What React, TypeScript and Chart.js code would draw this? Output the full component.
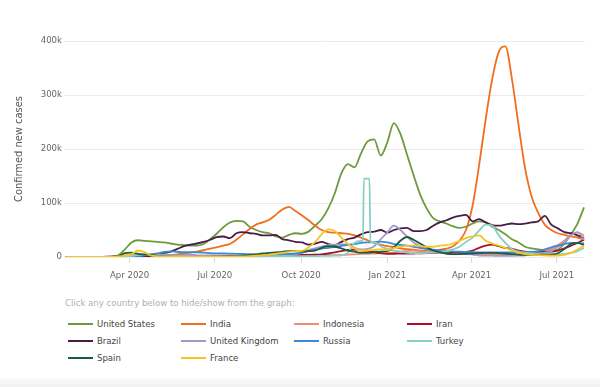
import React, { useEffect, useRef, useState } from "react";
import { Chart, registerables } from "chart.js";

Chart.register(...registerables);

const FONT = "'DejaVu Sans Condensed', 'DejaVu Sans', sans-serif";

// x values: days after 22 Jan 2020, one sample per week
const startDay = 2;
const weekDays = Array.from({ length: 80 }, (_, i) => startDay + 7 * i);
const xMaxDay = 556;
const xTickDays = [70, 161, 253, 345, 435, 526];
const xTickLabels = ["Apr 2020", "Jul 2020", "Oct 2020", "Jan 2021", "Apr 2021", "Jul 2021"];
const yTickValues = [0, 100, 200, 300, 400];
const yTickLabels = ["0", "100k", "200k", "300k", "400k"];

const countries = [
  "United States", "India", "Indonesia", "Iran",
  "Brazil", "United Kingdom", "Russia", "Turkey",
  "Spain", "France",
];
const colors = [
  "#6c9a3c", "#f06e1c", "#f1897a", "#a8102d",
  "#4b1b45", "#a698c8", "#3a8bd6", "#88cfc6",
  "#1d5b3e", "#f6c423",
];

// confirmed new cases (7-day average), thousands
const usCases = [
  0, 0, 0, 0, 0, 0, 0, 0.3, 3, 14,
  27, 31, 30, 29, 28, 27, 25, 23, 22, 21,
  21, 24, 33, 43, 55, 64, 67, 66, 56, 50,
  46, 44, 38, 36, 41, 44, 43, 47, 58, 70,
  90, 118, 155, 172, 166, 192, 214, 218, 188, 212,
  248, 228, 190, 152, 116, 90, 72, 66, 62, 57,
  54, 56, 62, 66, 64, 56, 50, 42, 33, 27,
  19, 16, 14, 13, 12, 14, 25, 42, 62, 92,
];
const indiaCases = [
  0, 0, 0, 0, 0, 0, 0, 0, 0.02, 0.08,
  0.3, 0.6, 1, 1.4, 1.7, 3, 3.6, 5, 6.5, 8.3,
  10, 12.5, 15.5, 18, 21, 24, 32, 42, 52, 60,
  64, 69, 78, 88, 93, 85, 77, 68, 58, 50,
  46, 45, 44, 43, 40, 36, 31, 26, 23, 20,
  18.5, 16, 14.5, 13.5, 12, 11.5, 11.5, 13.5, 15.5, 20,
  30, 50, 95, 170, 255, 330, 380, 390, 330, 245,
  165, 112, 82, 60, 50, 44, 41, 38, 36, 32,
];
const indonesiaCases = [
  0, 0, 0, 0, 0, 0, 0, 0, 0, 0.05,
  0.1, 0.25, 0.3, 0.3, 0.35, 0.35, 0.5, 0.5, 0.6, 0.65,
  0.9, 1, 1.2, 1.3, 1.5, 1.6, 1.7, 1.8, 1.8, 2,
  2.1, 2.3, 2.9, 3.3, 3.7, 4.1, 4.2, 4.3, 4.2, 4,
  3.7, 3.5, 3.8, 4.5, 5, 5.6, 6, 6.5, 6.8, 7.2,
  8, 10, 11, 12, 11, 9, 8.5, 8, 6.5, 5.5,
  5.5, 5.5, 5.5, 5.2, 5, 5.5, 5, 4.5, 4, 4.5,
  5.5, 6, 7.5, 10, 15, 22, 30, 42, 45, 40,
];
const iranCases = [
  0, 0, 0, 0, 0, 0.1, 0.5, 0.9, 1.1, 2.5,
  2.8, 2.2, 1.6, 1.2, 1.1, 1.4, 1.8, 2.2, 2.6, 3,
  2.6, 2.5, 2.6, 2.6, 2.3, 2.4, 2.5, 2.5, 2.4, 2.3,
  2.2, 2.1, 2.1, 2.3, 2.9, 3.4, 3.7, 4, 4.2, 5,
  6.5, 8.5, 11, 13, 13.5, 13, 11, 9, 7, 6,
  6, 6.2, 6.2, 6.5, 6.8, 7, 7.5, 8.5, 8.2, 8,
  8.5, 9.5, 12, 17, 21, 23, 20, 17, 15, 12,
  10, 9, 9, 9.5, 10, 12, 16, 21, 26, 32,
];
const brazilCases = [
  0, 0, 0, 0, 0, 0, 0, 0, 0.05, 0.3,
  0.9, 1.3, 2, 3, 5, 7.5, 10, 15, 20, 23,
  25, 28, 32, 37, 38, 35, 44, 46, 44, 43,
  40, 40, 41, 33, 31, 28, 27, 23, 25, 28,
  24, 22, 28, 33, 36, 42, 46, 47, 50, 45,
  50, 53, 54, 48, 48, 50, 58, 64, 68, 73,
  76, 78, 66, 70, 64, 59, 58, 60, 62, 61,
  62, 64, 66, 76, 60, 53, 46, 44, 40, 35,
];
const ukCases = [
  0, 0, 0, 0, 0, 0, 0, 0.1, 0.6, 1.7,
  3.5, 4.5, 5, 5, 5, 4.5, 3.5, 2.8, 2.2, 1.9,
  1.4, 1.2, 1, 0.7, 0.6, 0.6, 0.7, 0.8, 0.9, 1,
  1.1, 1.2, 1.5, 2.5, 3.5, 5, 7.5, 13, 16, 19,
  22, 23, 24, 23, 17, 14, 15, 20, 33, 45,
  58, 50, 38, 27, 20, 14, 11, 9, 6.5, 5.8,
  5.5, 5.5, 4.5, 2.8, 2.6, 2.4, 2.2, 2.2, 2.2, 2.5,
  3, 4.5, 6.5, 8, 11, 19, 27, 40, 46, 32,
];
const russiaCases = [
  0, 0, 0, 0, 0, 0, 0, 0, 0, 0.1,
  0.5, 1.3, 3, 5, 6.5, 9.5, 10.5, 9.5, 8.8, 8.8,
  8.7, 8, 7.2, 6.7, 6.6, 6.3, 5.9, 5.6, 5.2, 5,
  4.9, 4.8, 4.9, 5.2, 5.7, 6.5, 8.5, 11, 13.5, 15.5,
  17, 19, 20.5, 22.5, 24, 26, 27, 27.5, 28.5, 27,
  24, 22.5, 21, 19, 17, 15, 13.5, 12.5, 11.5, 10.5,
  9.8, 9.3, 8.8, 8.6, 8.7, 8.7, 8.5, 8.5, 8.4, 8.5,
  8.8, 9.5, 11, 14, 18, 21, 24, 26, 26, 25,
];
const turkeyCases = [
  0, 0, 0, 0, 0, 0, 0, 0, 0, 0.3,
  1.8, 3.8, 4.5, 3.7, 2.6, 1.9, 1.5, 1.1, 0.9, 0.9,
  1.1, 1.4, 1.3, 1.2, 1.1, 1, 0.95, 1, 1.1, 1.2,
  1.3, 1.4, 1.6, 1.7, 1.7, 1.6, 1.5, 1.6, 1.7, 2,
  2.2, 2.5, 2.9, 8, 26, 30, 145, 27, 20, 15,
  12, 10, 8, 7, 7, 7.5, 8, 9.5, 11, 14,
  19, 28, 36, 49, 60, 58, 40, 26, 15, 10,
  8, 7, 6, 5.5, 5.3, 5.2, 5.7, 7.5, 11, 17,
];
// extra daily samples around Turkey's December 2020 reporting jump
const turkeySpikeDays = [319, 320, 326, 327];
const turkeySpikeValues = [29, 145, 145, 28];
const spainCases = [
  0, 0, 0, 0, 0, 0, 0, 0.3, 1.5, 7,
  8, 6, 4.5, 4, 2, 1, 0.6, 0.4, 0.3, 0.3,
  0.3, 0.3, 0.35, 0.4, 0.6, 1, 1.7, 2.3, 3.5, 5,
  6.5, 7.5, 8.5, 9.5, 11, 11, 10.5, 11, 12, 17,
  20, 19, 16, 12, 10, 8, 8, 9, 10, 11,
  18, 30, 37, 32, 25, 18, 12, 9, 6.5, 5.5,
  5.5, 6, 6.5, 7, 7.5, 7.5, 7, 6.5, 5.5, 4.5,
  4, 3.8, 4, 4.5, 4.5, 7, 15, 24, 26, 22,
];
const franceCases = [
  0, 0, 0, 0, 0, 0, 0.1, 0.3, 1, 2.5,
  5, 12, 9, 2.5, 1.5, 1, 0.8, 0.5, 0.4, 0.4,
  0.4, 0.5, 0.5, 0.6, 0.6, 0.7, 0.9, 1.2, 1.7, 2.5,
  3.5, 4.5, 6, 7.5, 9.5, 11, 11.5, 18, 28, 42,
  51, 48, 36, 24, 16, 12, 12, 13, 14, 13,
  17, 19, 21, 21, 20, 19, 19, 21, 22, 25,
  30, 35, 38, 40, 30, 25, 21, 17, 12, 8,
  5.5, 4, 3.5, 3, 2.5, 2.5, 4, 7.5, 14, 21,
];

const seriesValues = [
  usCases, indiaCases, indonesiaCases, iranCases,
  brazilCases, ukCases, russiaCases, turkeyCases,
  spainCases, franceCases,
];

function buildPoints(i: number) {
  const pts = seriesValues[i].map((v, k) => ({ x: weekDays[k], y: v }));
  if (countries[i] === "Turkey") {
    turkeySpikeDays.forEach((d, j) => pts.push({ x: d, y: turkeySpikeValues[j] }));
    pts.sort((a, b) => a.x - b.x);
  }
  return pts;
}

export default function App() {
  const canvasRef = useRef<HTMLCanvasElement>(null);
  const chartRef = useRef<Chart | null>(null);
  const [hidden, setHidden] = useState<boolean[]>(countries.map(() => false));

  useEffect(() => {
    const canvas = canvasRef.current;
    if (!canvas) return;
    const chart = new Chart(canvas, {
      type: "line",
      data: {
        datasets: countries.map((name, i) => ({
          label: name,
          data: buildPoints(i),
          borderColor: colors[i],
          backgroundColor: colors[i],
          borderWidth: 1.8,
          pointRadius: 0,
          pointHoverRadius: 0,
          fill: false,
          cubicInterpolationMode: "monotone" as const,
          order: countries.length - 1 - i,
        })),
      },
      options: {
        responsive: false,
        animation: false,
        devicePixelRatio: 1,
        layout: { padding: { left: 0, right: 15, top: 41, bottom: 0 } },
        plugins: {
          legend: { display: false },
          tooltip: { mode: "nearest", intersect: false },
        },
        scales: {
          x: {
            type: "linear",
            min: 0,
            max: xMaxDay,
            afterBuildTicks: (scale: any) => {
              scale.ticks = xTickDays.map((v) => ({ value: v }));
            },
            afterFit: (scale: any) => {
              scale.height = 28;
            },
            ticks: {
              autoSkip: false,
              maxRotation: 0,
              padding: 7,
              color: "#666",
              font: { family: FONT, size: 9.5 },
              callback: (v: any) => {
                const idx = xTickDays.indexOf(Number(v));
                return idx >= 0 ? xTickLabels[idx] : "";
              },
            },
            grid: { drawOnChartArea: false, drawTicks: true, tickLength: 6, color: "#d8d8d8" },
            border: { display: false },
          },
          y: {
            min: 0,
            max: 400,
            afterBuildTicks: (scale: any) => {
              scale.ticks = yTickValues.map((v) => ({ value: v }));
            },
            afterFit: (scale: any) => {
              scale.width = 64;
            },
            ticks: {
              padding: 2,
              color: "#666",
              font: { family: FONT, size: 9.5 },
              callback: (v: any) => {
                const idx = yTickValues.indexOf(Number(v));
                return idx >= 0 ? yTickLabels[idx] : "";
              },
            },
            grid: { color: "#ebebeb", drawTicks: false },
            border: { display: false },
            title: {
              display: true,
              text: "Confirmed new cases",
              color: "#555",
              font: { family: FONT, size: 11 },
              padding: { top: 13, bottom: 0 },
            },
          },
        },
      },
    });
    chartRef.current = chart;
    return () => {
      chart.destroy();
      chartRef.current = null;
    };
  }, []);

  const toggle = (i: number) => {
    const chart = chartRef.current;
    const next = hidden.slice();
    next[i] = !next[i];
    setHidden(next);
    if (chart) {
      chart.setDatasetVisibility(i, !next[i]);
      chart.update();
    }
  };

  return (
    <div
      style={{
        position: "absolute",
        left: 0,
        top: 0,
        width: 600,
        height: 387,
        background: "#fff",
        overflow: "hidden",
        fontFamily: FONT,
      }}
    >
      <canvas
        ref={canvasRef}
        width={600}
        height={285}
        style={{ position: "absolute", left: 0, top: 0, width: 600, height: 285 }}
      />
      <div
        style={{
          position: "absolute",
          left: 65,
          top: 297,
          fontSize: 9.5,
          lineHeight: "12px",
          color: "#b0b0b0",
          whiteSpace: "nowrap",
        }}
      >
        Click any country below to hide/show from the graph:
      </div>
      {countries.map((name, i) => {
        const row = Math.floor(i / 4);
        const col = i % 4;
        return (
          <div
            key={name}
            onClick={() => toggle(i)}
            style={{
              position: "absolute",
              left: 68 + col * 113,
              top: 318 + row * 17,
              height: 12,
              lineHeight: "12px",
              fontSize: 9.5,
              color: "#444",
              cursor: "pointer",
              whiteSpace: "nowrap",
              display: "flex",
              alignItems: "center",
              opacity: hidden[i] ? 0.35 : 1,
            }}
          >
            <span
              style={{
                display: "inline-block",
                width: 25,
                height: 2,
                background: colors[i],
                marginRight: 4,
              }}
            />
            {name}
          </div>
        );
      })}
      <div
        style={{
          position: "absolute",
          left: 0,
          top: 378,
          width: 600,
          height: 9,
          background: "linear-gradient(#fafafa, #f1f1f1)",
        }}
      />
    </div>
  );
}
